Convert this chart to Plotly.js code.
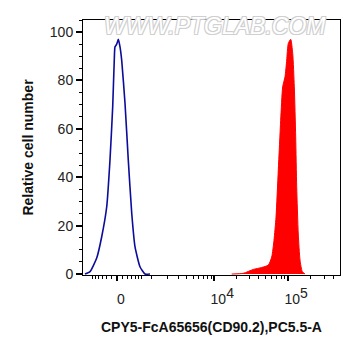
<!DOCTYPE html>
<html>
<head>
<meta charset="utf-8">
<script src="https://cdn.plot.ly/plotly-3.0.1.min.js"></script>
<style>html,body{margin:0;padding:0;background:#fff;}</style>
</head>
<body>
<div id="chart" style="width:361px;height:356px;"></div>
<script>
// Control (unstained) histogram: raw fluorescence intensity vs relative count
const controlX = [-894,-691,-463,-321,-199,-129,-76,-47,-34,-5,22,52,83,149,222,306,395,549,729,938];
const controlY = [0,1.0,6.6,15.4,27.8,47.1,69.1,88.4,93.9,95,97,93.9,88.4,70.7,47.1,25.2,11.3,3.0,0,0];
// Stained sample histogram
const sampleX = [17340,24930,34030,44140,54110,60050,64480,68580,73600,79220,84240,90400,95260,100000,107700,114500,120300,125500,129400,135900,143200,153600,166900];
const sampleY = [0,0.3,1.9,2.7,3.7,7.0,14,23.5,43,63.6,77.4,81.5,88.4,95.3,97.0,91.2,77.4,56.7,36.1,16.5,5.8,1.0,0];
// Axis ticks (raw values)
const majorTickValues = [0, 10000, 100000];
const majorTickLabels = ["0", "&nbsp;&nbsp;10<sup><span style='font-size:14px'>4</span></sup>", "&nbsp;&nbsp;10<sup><span style='font-size:14px'>5</span></sup>"];
const minorTickValues = [
  -600,-500,-400,-300,-200,-100,
  100,200,300,400,500,600,
  1000,2000,3000,4000,5000,6000,7000,8000,9000,
  20000,30000,40000,50000,60000,70000,80000,90000,
  200000,300000,400000
];
const xRangeRaw = [-984, 486600];

// Biexponential-like display transform (linear near zero, log for large values)
const W = 540;
function biex(v){ return Math.sign(v) * Math.log10(1 + Math.abs(v) / W); }

const FONT = "Arial, 'Liberation Sans', sans-serif";

const traces = [
  {
    x: sampleX.map(biex), y: sampleY, type: 'scatter', mode: 'lines',
    fill: 'tozeroy', fillcolor: '#ff0000',
    line: {color: '#ff0000', width: 1, shape: 'spline', smoothing: 0.6},
    hoverinfo: 'skip'
  },
  {
    x: controlX.map(biex), y: controlY, type: 'scatter', mode: 'lines',
    line: {color: '#0c0c9c', width: 1.6, shape: 'spline', smoothing: 0.5},
    hoverinfo: 'skip'
  }
];

const layout = {
  width: 361, height: 356,
  margin: {l: 83, r: 21, t: 20, b: 81},
  paper_bgcolor: '#ffffff', plot_bgcolor: '#ffffff',
  showlegend: false,
  font: {family: FONT, color: '#222'},
  xaxis: {
    range: xRangeRaw.map(biex),
    tickmode: 'array',
    tickvals: majorTickValues.map(biex),
    ticktext: majorTickLabels,
    ticks: 'outside', ticklen: 5, tickwidth: 2, tickcolor: '#000',
    minor: {tickmode: 'array', tickvals: minorTickValues.map(biex), ticks: 'outside', ticklen: 3, tickwidth: 1, tickcolor: '#000', showgrid: false},
    showline: true, linecolor: '#000', linewidth: 1, mirror: true,
    showgrid: false, zeroline: false,
    tickfont: {size: 14, color: '#222', family: FONT},
    ticklabelstandoff: 6,
    ticklabelshift: 4,
    title: {text: 'CPY5-FcA65656(CD90.2),PC5.5-A', font: {size: 14, color: '#111', family: FONT, weight: 'bold'}, standoff: 16},
    automargin: false, fixedrange: true
  },
  yaxis: {
    range: [-0.4, 105],
    tickmode: 'array', tickvals: [0,20,40,60,80,100],
    ticks: 'outside', ticklen: 6, tickwidth: 2, tickcolor: '#000',
    minor: {dtick: 5, ticks: 'outside', ticklen: 3, tickwidth: 1, tickcolor: '#000', showgrid: false},
    showline: true, linecolor: '#000', linewidth: 1, mirror: true,
    showgrid: false, zeroline: false,
    tickfont: {size: 14, color: '#222', family: FONT},
    title: {text: 'Relative cell number', font: {size: 14, color: '#111', family: FONT, weight: 'bold'}, standoff: 12},
    automargin: false, fixedrange: true
  },
  annotations: [{
    text: 'WWW.PTGLAB.COM', xref: 'paper', yref: 'paper', x: 0.512, y: 0.975,
    xanchor: 'center', yanchor: 'middle', showarrow: false,
    font: {size: 23, family: FONT, color: '#ffffff', style: 'italic',
      shadow: '-1px -1px 0 #cfcfcf, 1px -1px 0 #cfcfcf, -1px 1px 0 #cfcfcf, 1px 1px 0 #cfcfcf'}
  }]
};

Plotly.newPlot('chart', traces, layout, {staticPlot: true, displayModeBar: false});
</script>
</body>
</html>
